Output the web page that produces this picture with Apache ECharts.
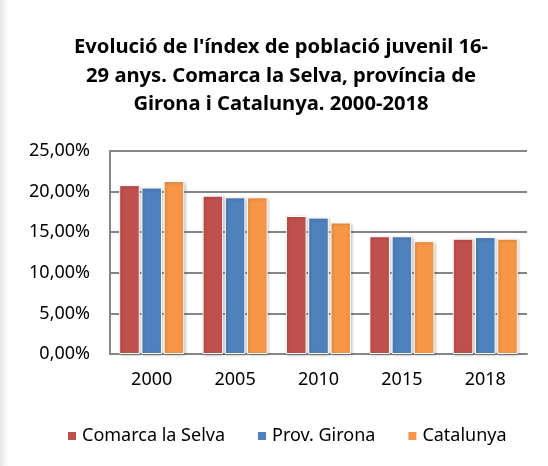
<!DOCTYPE html>
<html>
<head>
<meta charset="utf-8">
<script src="https://cdn.jsdelivr.net/npm/echarts@6/dist/echarts.min.js"></script>
<style>
html, body { margin: 0; padding: 0; background: #fff; }
#main {
  width: 548px;
  height: 466px;
  background: linear-gradient(to right, #e6e6e6 0px, #f6f6f6 5px, #fff 9px);
}
</style>
</head>
<body>
<div id="main"></div>
<script>
// dades llegides del gràfic
var years = ["2000", "2005", "2010", "2015", "2018"];
var selva = [20.8, 19.5, 17.0, 14.5, 14.2];
var girona = [20.5, 19.3, 16.8, 14.5, 14.4];
var catalunya = [21.3, 19.3, 16.2, 13.9, 14.2];
var seriesNames = ["Comarca la Selva", "Prov. Girona", "Catalunya"];
var colors = ["#C0504D", "#4F81BD", "#F79646"];

var myChart = echarts.init(document.getElementById("main"));

function barSeries(name, data, color) {
  return {
    name: name,
    type: "bar",
    data: data,
    barGap: "8%",
    barCategoryGap: "22%",
    itemStyle: {
      color: color,
      borderColor: "#fff",
      borderWidth: 1,
      shadowColor: "rgba(0,0,0,0.25)",
      shadowBlur: 3,
      shadowOffsetX: 1,
      shadowOffsetY: 1
    },
    animation: false
  };
}

var option = {
  textStyle: { fontFamily: "Noto Sans", color: "#000" },
  title: {
    text: "Evolució de l'índex de població juvenil 16-\n29 anys. Comarca la Selva, província de\nGirona i Catalunya. 2000-2018",
    left: 276,
    top: 28,
    textAlign: "center",
    textStyle: {
      fontFamily: "Noto Sans",
      fontSize: 20.2,
      fontWeight: "bold",
      lineHeight: 28.5,
      color: "#000"
    }
  },
  grid: {
    left: 110,
    right: 21,
    top: 151,
    bottom: 112
  },
  legend: {
    top: 422,
    left: 61,
    itemWidth: 10,
    itemHeight: 10,
    itemGap: 31,
    icon: "rect",
    textStyle: { fontSize: 18, color: "#000", fontFamily: "Noto Sans" },
    data: seriesNames
  },
  xAxis: {
    type: "category",
    data: years,
    axisTick: { show: false },
    axisLine: { lineStyle: { color: "#868686", width: 2 } },
    axisLabel: { fontSize: 18, color: "#000", margin: 17 }
  },
  yAxis: {
    type: "value",
    min: 0,
    max: 25,
    interval: 5,
    axisLine: { show: true, lineStyle: { color: "#868686", width: 2 } },
    axisTick: { show: false },
    splitLine: { lineStyle: { color: "#868686", width: 2 } },
    axisLabel: {
      fontSize: 18,
      color: "#000",
      margin: 20,
      formatter: function(v) {
        return v.toFixed(2).replace(".", ",") + "%";
      }
    }
  },
  series: [
    barSeries(seriesNames[0], selva, colors[0]),
    barSeries(seriesNames[1], girona, colors[1]),
    barSeries(seriesNames[2], catalunya, colors[2])
  ],
  animation: false
};
myChart.setOption(option);
</script>
</body>
</html>
